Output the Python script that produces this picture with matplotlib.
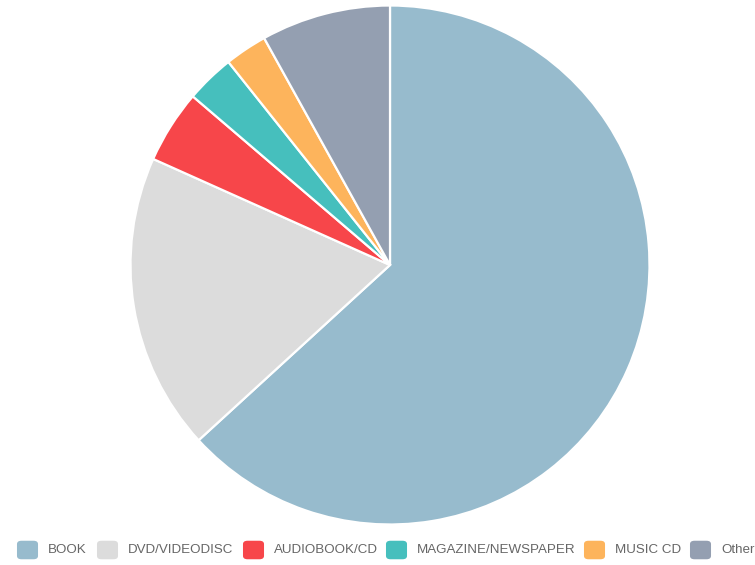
import matplotlib
matplotlib.use("Agg")
import matplotlib.pyplot as plt
from matplotlib.patches import FancyBboxPatch

labels = ["BOOK", "DVD/VIDEODISC", "AUDIOBOOK/CD", "MAGAZINE/NEWSPAPER", "MUSIC CD", "Other"]
values = [63.2, 18.5, 4.56, 3.04, 2.64, 8.06]
colors = ["#97BBCD", "#DCDCDC", "#F7464A", "#46BFBD", "#FDB45C", "#949FB1"]

W, H = 755, 565
fig = plt.figure(figsize=(W / 100, H / 100), dpi=100)
cx, cy, r = 390, 265, 260
ax = fig.add_axes([(cx - r) / W, (H - cy - r) / H, 2 * r / W, 2 * r / H])
ax.pie(values, colors=colors, startangle=90, counterclock=False, radius=1,
       wedgeprops=dict(edgecolor="white", linewidth=1.6))
ax.set_xlim(-1.002, 1.002)
ax.set_ylim(-1.002, 1.002)
ax.set_aspect("equal")
ax.axis("off")

# legend
box_x = [17, 97, 243, 386, 584, 690]
ly = 550
bw, bh = 21, 20
for x, lab, col in zip(box_x, labels, colors):
    p = FancyBboxPatch(((x + 3) / W, (H - ly - bh / 2 + 3) / H), (bw - 6) / W, (bh - 6) / H,
                       boxstyle="round,pad=0.004,rounding_size=0.006",
                       transform=fig.transFigure, facecolor=col, edgecolor=col, linewidth=0)
    fig.patches.append(p)
    fig.text((x + bw + 10) / W, (H - ly) / H, lab, fontsize=9.6, color="#666666",
             family="Liberation Sans", va="center", ha="left")

fig.savefig("out.png", dpi=100)
